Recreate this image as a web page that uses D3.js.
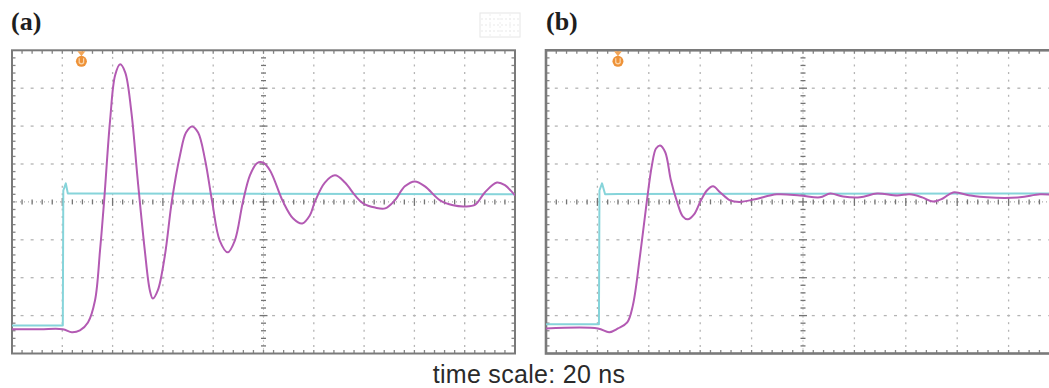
<!DOCTYPE html>
<html>
<head>
<meta charset="utf-8">
<script src="https://cdn.jsdelivr.net/npm/d3@7"></script>
<style>
html,body{margin:0;padding:0;background:#fff;overflow:hidden;}
svg{display:block;}
</style>
</head>
<body>
<svg id="chart" width="1049" height="388"></svg>
<script>
// ---- data (time in divisions 0..10, amplitude in divisions -4..4) ----
const panelLabels = ["(a)", "(b)"];
const axisCaption = "time scale: 20 ns";

const probeA_t = [0,0.56,1.01,1.19,1.35,1.51,1.65,1.75,1.83,1.95,2.05,2.15,2.25,2.37,2.50,2.64,2.74,2.80,2.90,3.04,3.18,3.34,3.46,3.58,3.70,3.84,3.98,4.13,4.29,4.43,4.59,4.73,4.87,4.99,5.13,5.39,5.59,5.77,5.92,6.02,6.22,6.42,6.62,6.82,6.98,7.22,7.42,7.61,7.81,8.01,8.21,8.51,8.77,9.01,9.21,9.40,9.64,9.80,10];
const probeA_v = [-3.36,-3.36,-3.36,-3.44,-3.39,-3.18,-2.60,-1.28,0.0,2.15,3.34,3.63,3.42,2.41,0.57,-1.28,-2.33,-2.55,-2.33,-1.41,0.04,1.23,1.83,1.99,1.83,1.10,0.0,-1.02,-1.33,-1.02,0.0,0.70,1.02,1.04,0.83,0.0,-0.44,-0.57,-0.36,0.0,0.51,0.70,0.51,0.17,-0.04,-0.15,-0.17,0.04,0.41,0.54,0.41,0.04,-0.09,-0.12,-0.07,0.25,0.51,0.44,0.17];

const refA_t = [0,1.01,1.02,1.07,1.11,1.35,10];
const refA_v = [-3.26,-3.26,0.3,0.49,0.22,0.22,0.20];

const probeB_t = [0,1.01,1.23,1.40,1.58,1.69,1.83,1.96,2.06,2.14,2.22,2.32,2.43,2.55,2.66,2.76,2.88,3.00,3.13,3.25,3.39,3.58,3.77,4.07,4.49,4.94,5.33,5.53,5.78,6.11,6.44,6.83,7.08,7.32,7.53,7.72,7.92,8.25,8.58,9.22,9.61,9.96];
const probeB_v = [-3.34,-3.34,-3.44,-3.34,-3.18,-2.73,-1.41,0.0,0.96,1.41,1.49,1.31,0.57,0.0,-0.38,-0.46,-0.33,0.0,0.30,0.41,0.25,0.04,0.0,0.07,0.20,0.17,0.12,0.22,0.14,0.12,0.22,0.17,0.20,0.12,0.01,0.09,0.25,0.17,0.12,0.12,0.20,0.17];

const refB_t = [0,1.03,1.04,1.09,1.15,1.40,10];
const refB_v = [-3.23,-3.23,0.3,0.49,0.20,0.21,0.22];

const triggerT = [1.38, 1.40];

// ---- layout ----
const svg = d3.select("#chart");
const panels = [
  {x0:12, x1:515, y0:50.3, y1:353.5, label:panelLabels[0], lx:11, probe:[probeA_t,probeA_v], ref:[refA_t,refA_v], trig:triggerT[0], bw:2},
  {x0:546, x1:1060, y0:50.3, y1:353.5, label:panelLabels[1], lx:546, probe:[probeB_t,probeB_v], ref:[refB_t,refB_v], trig:triggerT[1], bw:2.6}
];

const pinkC = "#b35ab3";
const cyanC = "#86d4da";
const gridC = "#b4b4b4";
const borderC = "#7a7a7a";

panels.forEach((p,i)=>{
  const x = d3.scaleLinear().domain([0,10]).range([p.x0,p.x1]);
  const y = d3.scaleLinear().domain([-4,4]).range([p.y1,p.y0]);
  const g = svg.append("g");
  const clipId = "clip"+i;
  svg.append("clipPath").attr("id",clipId).append("rect")
     .attr("x",p.x0).attr("y",p.y0-3).attr("width",p.x1-p.x0).attr("height",p.y1-p.y0+6);

  const minorX = d3.range(0,10.001,0.2);
  const minorY = d3.range(-4,4.001,0.2);
  const majX = d3.range(1,10);
  const majY = d3.range(-3,4);
  majX.forEach(t=>{
    if (t===5) return;
    g.selectAll(null).data(minorY.slice(1,-1)).enter().append("line")
     .attr("x1",x(t)).attr("x2",x(t))
     .attr("y1",d=>y(d)-1).attr("y2",d=>y(d)+1)
     .attr("stroke",gridC).attr("stroke-width",1.3);
  });
  majY.forEach(v=>{
    if (v===0) return;
    g.selectAll(null).data(minorX.slice(1,-1)).enter().append("line")
     .attr("y1",y(v)).attr("y2",y(v))
     .attr("x1",d=>x(d)-1.5).attr("x2",d=>x(d)+1.5)
     .attr("stroke",gridC).attr("stroke-width",1.3);
  });
  // center crosshair with ticks
  g.append("line").attr("x1",x(0)).attr("x2",x(10)).attr("y1",y(0)).attr("y2",y(0))
   .attr("stroke","#9a9a9a").attr("stroke-width",1).attr("stroke-dasharray","1,3");
  g.append("line").attr("x1",x(5)).attr("x2",x(5)).attr("y1",y(-4)).attr("y2",y(4))
   .attr("stroke","#9a9a9a").attr("stroke-width",1).attr("stroke-dasharray","1,3");
  const isMaj = d=>Math.abs(d-Math.round(d))<0.01;
  g.selectAll(null).data(minorX.slice(1,-1)).enter().append("line")
   .attr("x1",d=>x(d)).attr("x2",d=>x(d))
   .attr("y1",d=>y(0)-(isMaj(d)?4:2.5)).attr("y2",d=>y(0)+(isMaj(d)?4:2.5))
   .attr("stroke","#747474").attr("stroke-width",1.3);
  g.selectAll(null).data(minorY.slice(1,-1)).enter().append("line")
   .attr("y1",d=>y(d)).attr("y2",d=>y(d))
   .attr("x1",d=>x(5)-(isMaj(d)?4:2.5)).attr("x2",d=>x(5)+(isMaj(d)?4:2.5))
   .attr("stroke","#747474").attr("stroke-width",1.3);
  // border ticks
  g.selectAll(null).data(minorX.slice(1,-1)).enter().append("line")
   .attr("x1",d=>x(d)).attr("x2",d=>x(d)).attr("y1",y(4)).attr("y2",y(4)+3.5)
   .attr("stroke","#858585").attr("stroke-width",1.3);
  g.selectAll(null).data(minorX.slice(1,-1)).enter().append("line")
   .attr("x1",d=>x(d)).attr("x2",d=>x(d)).attr("y1",y(-4)).attr("y2",y(-4)-3.5)
   .attr("stroke","#858585").attr("stroke-width",1.3);
  g.selectAll(null).data(minorY.slice(1,-1)).enter().append("line")
   .attr("y1",d=>y(d)).attr("y2",d=>y(d)).attr("x1",x(0)).attr("x2",x(0)+3.5)
   .attr("stroke","#858585").attr("stroke-width",1.3);
  g.selectAll(null).data(minorY.slice(1,-1)).enter().append("line")
   .attr("y1",d=>y(d)).attr("y2",d=>y(d)).attr("x1",x(10)).attr("x2",x(10)-3.5)
   .attr("stroke","#858585").attr("stroke-width",1.3);
  // border
  g.append("rect").attr("x",x(0)).attr("y",y(4)).attr("width",x(10)-x(0)).attr("height",y(-4)-y(4))
   .attr("fill","none").attr("stroke",borderC).attr("stroke-width",p.bw);

  // traces
  const line = d3.line().x(d=>x(d[0])).y(d=>y(d[1]));
  const refData = p.ref[0].map((t,k)=>[t,p.ref[1][k]]);
  const probeData = p.probe[0].map((t,k)=>[t,p.probe[1][k]]);
  const tr = svg.append("g").attr("clip-path","url(#"+clipId+")");
  tr.append("path").attr("d",line(refData)).attr("fill","none")
    .attr("stroke",cyanC).attr("stroke-width",2).attr("stroke-linejoin","round");
  tr.append("path").attr("d",d3.line().x(d=>x(d[0])).y(d=>y(d[1])).curve(d3.curveCatmullRom.alpha(0.5))(probeData))
    .attr("fill","none").attr("stroke",pinkC).attr("stroke-width",2).attr("stroke-linejoin","round");

  // trigger marker
  const tx = x(p.trig);
  const ty = y(4);
  svg.append("path").attr("d",`M${tx-4},${ty+1} L${tx+4},${ty+1} L${tx},${ty+6} Z`).attr("fill","#f3a658");
  svg.append("circle").attr("cx",tx).attr("cy",ty+11).attr("r",5.5).attr("fill","#ee9238");
  svg.append("path").attr("d",`M${tx-2.2},${ty+8} L${tx-2.2},${ty+12.5} Q${tx},${ty+14.5} ${tx+2.2},${ty+12.5} L${tx+2.2},${ty+8}`)
    .attr("fill","none").attr("stroke","#fbd7ad").attr("stroke-width",1.2);

  // panel label
  svg.append("text").attr("x",p.lx).attr("y",30).text(p.label)
    .attr("font-family","'Liberation Serif','DejaVu Serif',serif").attr("font-weight","bold")
    .attr("font-size",26).attr("fill","#1e1e1e");
});

// faint icon between panels
const ic = svg.append("g").attr("opacity",0.6);
ic.append("rect").attr("x",480).attr("y",13).attr("width",40).attr("height",24).attr("fill","none").attr("stroke","#d8d8d8").attr("stroke-width",1);
[19,25,31].forEach(yy=>ic.append("line").attr("x1",481).attr("x2",519).attr("y1",yy).attr("y2",yy).attr("stroke","#dcdcdc").attr("stroke-dasharray","2,2"));
[490,500,510].forEach(xx=>ic.append("line").attr("y1",14).attr("y2",36).attr("x1",xx).attr("x2",xx).attr("stroke","#e4e4e4").attr("stroke-dasharray","2,2"));

// caption
svg.append("text").attr("x",529).attr("y",383).attr("text-anchor","middle")
  .attr("font-family","'Liberation Sans',Arial,sans-serif").attr("font-size",25)
  .attr("letter-spacing",0.3)
  .attr("fill","#2a2a2a").text(axisCaption);
</script>
</body>
</html>
